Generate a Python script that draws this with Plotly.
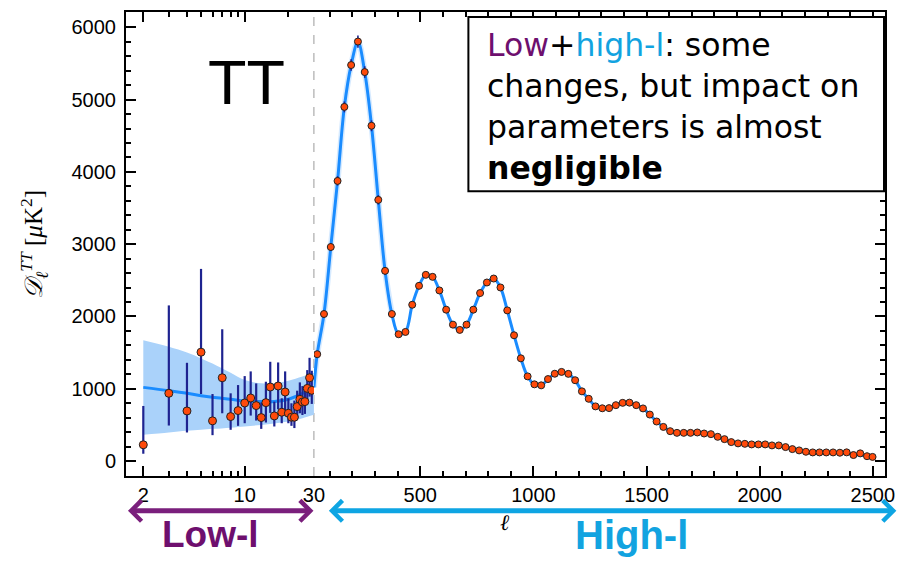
import plotly.graph_objects as go

# ---- low-l binned points (l = 2..29) with asymmetric error bars ----
low_ell = [2, 3, 4, 5, 6, 7, 8, 9, 10, 11, 12, 13, 14, 15, 16, 17, 18, 19,
           20, 21, 22, 23, 24, 25, 26, 27, 28, 29]
low_D = [225, 937, 693, 1506, 556, 1152, 615, 698, 803, 872, 767, 601, 808,
         1024, 624, 1038, 675, 955, 661, 606, 606, 753, 854, 817, 822, 1005,
         1152, 978]
low_err_up = [537, 1216, 666, 1152, 371, 671, 322, 353, 372, 368, 307, 207,
              289, 349, 198, 326, 193, 285, 207, 193, 230, 220, 234, 220, 210,
              253, 276, 271]
low_err_dn = [124, 446, 298, 579, 198, 491, 183, 211, 280, 243, 207, 156, 275,
              358, 146, 322, 152, 280, 138, 119, 150, 160, 193, 180, 170, 206,
              261, 188]

# ---- low-l best-fit model and its uncertainty band ----
band_ell = [2, 3, 4, 5, 6, 8, 10, 13, 16, 20, 25, 30]
model_low = [1019, 973, 937, 904, 882, 854, 831, 822, 822, 854, 937, 1019]
band_hi = [1671, 1580, 1500, 1420, 1350, 1220, 1120, 1075, 1075, 1110, 1170, 1220]
band_lo = [363, 395, 418, 432, 445, 462, 478, 500, 520, 546, 592, 640]

# ---- high-l binned points ----
hi_ell = [44.5, 74.5, 104.5, 134.5, 164.5, 194.5, 224.5, 254.5, 284.5, 314.5,
          344.5, 374.5, 404.5, 434.5, 464.5, 494.5, 524.5, 554.5, 584.5, 614.5,
          644.5, 674.5, 704.5, 734.5, 764.5, 794.5, 824.5, 854.5, 884.5, 914.5,
          944.5, 974.5, 1004.5, 1034.5, 1064.5, 1094.5, 1124.5, 1154.5, 1184.5, 1214.5,
          1244.5, 1274.5, 1304.5, 1334.5, 1364.5, 1394.5, 1424.5, 1454.5, 1484.5, 1514.5,
          1544.5, 1574.5, 1604.5, 1634.5, 1664.5, 1694.5, 1724.5, 1754.5, 1784.5, 1814.5,
          1844.5, 1874.5, 1904.5, 1934.5, 1964.5, 1994.5, 2024.5, 2054.5, 2084.5, 2114.5,
          2144.5, 2174.5, 2204.5, 2234.5, 2264.5, 2294.5, 2324.5, 2354.5, 2384.5, 2414.5,
          2444.5, 2474.5, 2499]
hi_D = [1478, 2034, 2961, 3875, 4899, 5478, 5803, 5381, 4638, 3613,
        2631, 2034, 1754, 1786, 2162, 2424, 2576, 2548, 2360, 2094,
        1887, 1814, 1887, 2094, 2324, 2470, 2525, 2401, 2084, 1740,
        1421, 1171, 1061, 1047, 1134, 1208, 1233, 1206, 1118, 964,
        861, 756, 730, 732, 773, 805, 808, 773, 728, 643,
        547, 472, 413, 390, 390, 390, 395, 381, 372, 335,
        303, 262, 244, 238, 230, 230, 230, 216, 216, 193,
        165, 147, 128, 119, 119, 119, 119, 115, 120, 83,
        106, 67, 57]
hi_err = [40, 45, 55, 65, 75, 80, 85, 80, 75, 65,
          55, 45, 40, 35, 35, 35, 35, 35, 30, 30,
          30, 30, 30, 30, 30, 30, 30, 30, 25, 25,
          25, 25, 25, 25, 25, 25, 25, 25, 25, 25,
          20, 20, 20, 20, 20, 20, 20, 20, 20, 20,
          20, 20, 20, 20, 20, 20, 20, 20, 20, 20,
          20, 20, 20, 20, 20, 20, 20, 20, 20, 20,
          20, 20, 20, 20, 20, 20, 20, 20, 20, 20,
          20, 20, 20]

# ---- high-l best-fit model ----
model_hi_ell = [30, 44.5, 74.5, 104.5, 134.5, 164.5, 194.5, 224.5, 254.5, 284.5,
                314.5, 344.5, 374.5, 404.5, 434.5, 464.5, 494.5, 524.5, 554.5, 584.5,
                614.5, 644.5, 674.5, 704.5, 734.5, 764.5, 794.5, 824.5, 854.5, 884.5,
                914.5, 944.5, 974.5, 1004.5, 1034.5, 1064.5, 1094.5, 1124.5, 1154.5, 1184.5,
                1214.5, 1244.5, 1274.5, 1304.5, 1334.5, 1364.5, 1394.5, 1424.5, 1454.5, 1484.5,
                1514.5, 1544.5, 1574.5, 1604.5, 1634.5, 1694.5, 1754.5, 1814.5, 1874.5, 1934.5,
                1994.5, 2054.5, 2114.5, 2174.5, 2234.5, 2294.5, 2354.5, 2414.5, 2474.5, 2500]
model_hi_D = [1019, 1478, 2034, 2961, 3875, 4899, 5478, 5800, 5381, 4638,
              3613, 2631, 2034, 1754, 1786, 2162, 2424, 2576, 2548, 2360,
              2094, 1887, 1814, 1887, 2094, 2324, 2470, 2525, 2401, 2084,
              1740, 1421, 1171, 1061, 1047, 1134, 1208, 1233, 1206, 1118,
              964, 861, 756, 730, 732, 773, 805, 808, 773, 728,
              643, 547, 472, 413, 390, 390, 381, 335, 262, 238,
              230, 216, 193, 147, 119, 119, 115, 95, 70, 60]

x_ticks_low = [2, 10, 30]
x_minor_low = [3, 4, 5, 6, 7, 8, 9, 20]

# ---- styles ----
LINE_BLUE = "#1a8cff"
BAND_BLUE = "rgb(170,210,250)"
PT_FILL = "#ff4a0a"
ERR_NAVY = "#1e2390"
PURPLE = "#6e0f6e"
CYAN = "#12a3e0"

W, H = 906, 561
L, R, T, B = 126, 13, 10, 85
PW, PH = W - L - R, H - T - B
SPLIT = (315.9 - L) / PW


def px(xp):
    return (xp - L) / PW


def py(yp):
    return (H - B - yp) / PH


fig = go.Figure()

# low-l band
fig.add_trace(go.Scatter(x=band_ell, y=band_lo, mode="lines", line=dict(width=0, shape="spline"),
                         xaxis="x", yaxis="y", hoverinfo="skip", showlegend=False))
fig.add_trace(go.Scatter(x=band_ell, y=band_hi, mode="lines", line=dict(width=0, shape="spline"),
                         fill="tonexty", fillcolor=BAND_BLUE,
                         xaxis="x", yaxis="y", hoverinfo="skip", showlegend=False))
# low-l model
fig.add_trace(go.Scatter(x=band_ell, y=model_low, mode="lines",
                         line=dict(color=LINE_BLUE, width=3, shape="spline"),
                         xaxis="x", yaxis="y", showlegend=False))
# low-l data
fig.add_trace(go.Scatter(x=low_ell, y=low_D, mode="markers",
                         marker=dict(size=8, color=PT_FILL, line=dict(color="#222", width=1)),
                         error_y=dict(type="data", symmetric=False, array=low_err_up,
                                      arrayminus=low_err_dn, color=ERR_NAVY, thickness=2.2, width=0),
                         xaxis="x", yaxis="y", showlegend=False))

# high-l model: faint halo around the first peak, then the line itself
halo_n = 13
fig.add_trace(go.Scatter(x=model_hi_ell[:halo_n], y=model_hi_D[:halo_n], mode="lines",
                         line=dict(color="rgba(120,185,255,0.3)", width=6, shape="spline"),
                         xaxis="x2", yaxis="y2", hoverinfo="skip", showlegend=False))
fig.add_trace(go.Scatter(x=model_hi_ell, y=model_hi_D, mode="lines",
                         line=dict(color=LINE_BLUE, width=3, shape="spline"),
                         xaxis="x2", yaxis="y2", showlegend=False))
fig.add_trace(go.Scatter(x=hi_ell, y=hi_D, mode="markers",
                         marker=dict(size=7, color=PT_FILL, line=dict(color="#222", width=1)),
                         error_y=dict(type="data", array=hi_err, color=ERR_NAVY, thickness=1.6, width=0),
                         xaxis="x2", yaxis="y2", showlegend=False))

tick_font = dict(family="Liberation Sans, Arial, sans-serif", size=20, color="black")
YR = [-207, 6212]

common_x = dict(showline=True, linecolor="black", linewidth=2, mirror="ticks",
                ticks="inside", ticklen=10, tickwidth=1.5, tickcolor="black",
                showgrid=False, zeroline=False, tickfont=tick_font)

fig.update_layout(
    width=W, height=H,
    margin=dict(l=L, r=R, t=T, b=B),
    paper_bgcolor="white", plot_bgcolor="white",
    xaxis=dict(type="log", domain=[0, SPLIT], range=[0.1818, 1.47713], anchor="y",
               tickmode="array", tickvals=x_ticks_low, ticktext=[str(v) for v in x_ticks_low],
               minor=dict(tickmode="array", tickvals=x_minor_low, ticks="inside",
                          ticklen=5, tickwidth=1.5, tickcolor="black"),
               **common_x),
    xaxis2=dict(type="linear", domain=[SPLIT, 1], range=[30, 2554], anchor="y2",
                tickmode="linear", tick0=0, dtick=500,
                minor=dict(tick0=0, dtick=100, ticks="inside", ticklen=5,
                           tickwidth=1.5, tickcolor="black"),
                **common_x),
    yaxis=dict(range=YR, anchor="x", side="left", showline=True, linecolor="black",
               linewidth=2, ticks="inside", ticklen=10, tickwidth=1.5, tickcolor="black",
               tick0=0, dtick=1000, showgrid=False, zeroline=False, tickfont=tick_font,
               ticklabelstandoff=4,
               minor=dict(tick0=0, dtick=200, ticks="inside", ticklen=5,
                          tickwidth=1.5, tickcolor="black")),
    yaxis2=dict(range=YR, anchor="x2", side="right", showline=True, linecolor="black",
                linewidth=2, ticks="inside", ticklen=10, tickwidth=1.5, tickcolor="black",
                tick0=0, dtick=1000, showgrid=False, zeroline=False, showticklabels=False,
                minor=dict(tick0=0, dtick=200, ticks="inside", ticklen=5,
                           tickwidth=1.5, tickcolor="black")),
)

# dashed separator at l = 30
fig.add_shape(type="line", xref="paper", yref="paper", x0=SPLIT, x1=SPLIT, y0=0, y1=1,
              line=dict(color="#9a9a9a", width=1, dash="dash"), layer="below")

# text box
fig.add_shape(type="rect", xref="paper", yref="paper",
              x0=px(472), x1=px(892), y0=py(190), y1=py(15),
              line=dict(color="black", width=2), fillcolor="white", layer="above")

sans = "Liberation Sans, Arial, sans-serif"
serif = "Liberation Serif, DejaVu Serif, serif"


def label(text, xp, yp, size, color="black", family=sans, **kw):
    d = dict(text=text, x=px(xp), y=py(yp), xref="paper", yref="paper", showarrow=False,
             xanchor="center", yanchor="middle",
             font=dict(family=family, size=size, color=color))
    d.update(kw)
    return d


annotations = [
    label("TT", 248, 80, 63),
    label((f"<span style='color:{PURPLE}'>Low</span>+"
           f"<span style='color:{CYAN}'>high-l</span>: some<br>"
           "changes, but impact on<br>parameters is almost<br><b>negligible</b>"),
          489, 105, 31.5, family="DejaVu Sans, Verdana, sans-serif",
          xanchor="left", align="left"),
    label("<i>𝒟</i><sub><i>ℓ</i></sub><sup><i>TT</i></sup> [<i>μ</i>K<sup>2</sup>]",
          33, 243, 25, family=serif, textangle=-90),
    label("<i>ℓ</i>", 509, 523, 22, family=serif),
    label("<b>Low-l</b>", 211, 535, 37, color=PURPLE),
    label("<b>High-l</b>", 637, 535, 40, color=CYAN),
    # double-headed range arrows
    dict(text="", x=px(128), y=py(511), xref="paper", yref="paper",
         ax=187, ay=0, axref="pixel", ayref="pixel", showarrow=True,
         arrowside="end+start", arrowhead=4, startarrowhead=4, arrowsize=0.8,
         startarrowsize=0.8, arrowwidth=5, arrowcolor="#7a1f7c"),
    dict(text="", x=px(331), y=py(511), xref="paper", yref="paper",
         ax=569, ay=0, axref="pixel", ayref="pixel", showarrow=True,
         arrowside="end+start", arrowhead=4, startarrowhead=4, arrowsize=0.8,
         startarrowsize=0.8, arrowwidth=5, arrowcolor="#0ea5e3"),
]
fig.update_layout(annotations=annotations)

fig.write_html("out.html")
